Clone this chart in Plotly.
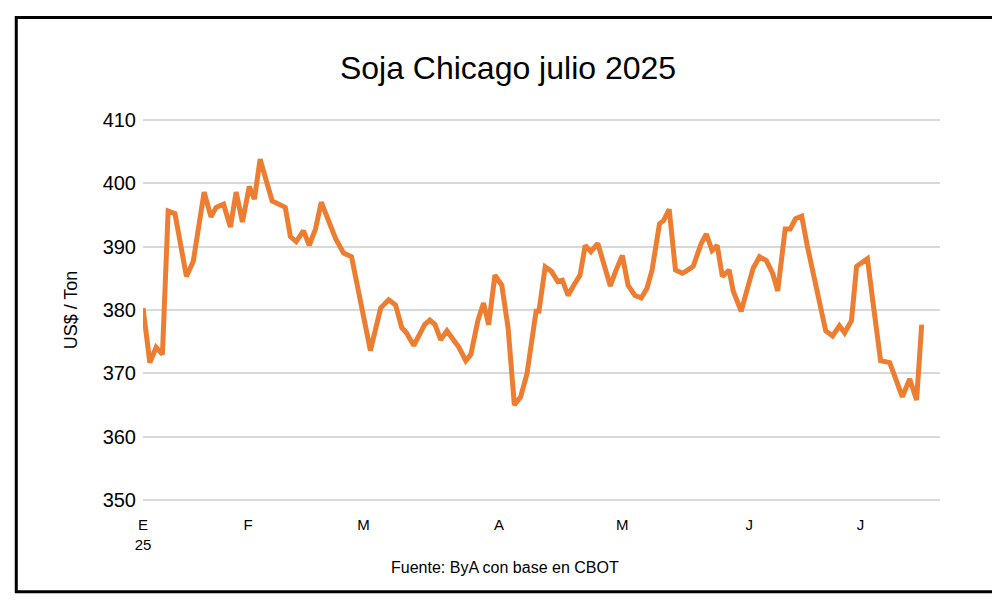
import plotly.graph_objects as go

x_pos = [0,1.2,2.3,3.4,4.4,5.6,7.6,8.8,10.7,11.9,12.8,14.1,15.3,16.3,17.4,18.6,19.5,20.5,22.6,24.9,25.8,26.8,28.1,29.1,30.2,31.2,33.7,35.1,36.5,38.2,39.8,41.6,43,44.2,45.3,46.1,47.4,49.3,50.2,51.1,52.1,53.2,54.4,55.3,56.5,57.4,58.6,59.6,60.5,61.6,62.8,63.9,65,66.1,67.2,68.1,68.8,69.3,70.4,71.5,72.6,73.4,74.4,75.4,76.5,77.4,78.4,79.6,80.7,81.8,82.8,83.9,84.9,86.1,87.2,88.2,89.1,90.4,91.1,92.1,93.2,94.4,95,96.3,97.7,98.6,99.6,100.5,101.4,102.6,103.3,104.7,105.8,106.8,107.9,109.1,110.2,111.1,112.4,113.3,114.2,115.3,116.3,117.5,119.5,120.7,121.9,122.8,124,124.9,126.1,126.8,127.9,129.1,130.7,131.9,132.9,134.2,135.4,136.3,137.4,139.5]
price = [380.3,371.7,374.1,373,395.6,395.2,385.3,387.7,398.6,394.7,396.2,396.7,393.1,398.6,393.9,399.5,397.5,403.8,397.2,396.2,391.6,390.8,392.5,390.2,392.8,397,391.3,389,388.4,380.3,373.6,380.3,381.6,380.8,377.2,376.4,374.4,377.7,378.4,377.7,375.3,376.7,375.2,374.1,372,373,378.3,381.1,377.7,385.5,383.9,377.2,365,366.3,369.9,375.6,379.8,379.8,386.8,386.1,384.5,384.7,382.3,383.9,385.5,390.2,389.2,390.5,387,383.8,386.3,388.6,383.9,382.3,381.9,383.4,386.3,393.6,394.1,395.9,386.3,385.8,386.1,386.9,390.5,392,389.4,390.2,385.3,386.3,383,379.8,383.4,386.6,388.4,387.8,385.8,383,392.8,392.8,394.4,394.8,390,385.3,376.7,375.9,377.5,376.4,378.3,386.9,387.8,388.1,380.3,372,371.7,368.6,366.3,369.1,365.8,377.7]
n = min(len(x_pos), len(price))
x_pos, price = x_pos[:n], price[:n]

tick_pos = [0, 18.4, 38.6, 62.3, 83.9, 106.1, 125.6]
tick_text = ["E<br>25", "F", "M", "A", "M", "J", "J"]
y_ticks = [350, 360, 370, 380, 390, 400, 410]

fig = go.Figure(go.Scatter(x=x_pos, y=price, mode="lines", cliponaxis=False,
                           line=dict(color="#ED7D31", width=5), hoverinfo="skip"))
fig.update_layout(
    width=1000, height=602, plot_bgcolor="white", paper_bgcolor="white",
    margin=dict(l=135, r=68, t=110, b=108, autoexpand=False), showlegend=False,
    font=dict(family="Liberation Sans, Arial", color="black"),
    title=dict(text="Soja Chicago julio 2025", x=0.5, xanchor="center", y=0.9, yanchor="middle",
               font=dict(size=32, color="black", family="Liberation Sans, Arial")),
    xaxis=dict(range=[0, 139.5], tickvals=tick_pos, ticktext=tick_text, showgrid=False,
               automargin=False, zeroline=False, showline=False, tickfont=dict(size=15),
               ticks="", ticklabelstandoff=12),
    yaxis=dict(range=[349.7, 410.3], tickvals=y_ticks, gridcolor="#D9D9D9", gridwidth=2,
               automargin=False, zeroline=False, showline=False, tickfont=dict(size=20), ticks="",
               ticklabelstandoff=6,
               title=dict(text="US$ / Ton", font=dict(size=18), standoff=20)),
    annotations=[dict(text="Fuente: ByA con base en CBOT", xref="paper", yref="paper",
                      x=0.454, y=-0.17, xanchor="center", yanchor="middle",
                      showarrow=False, font=dict(size=16))],
    shapes=[dict(type="rect", xref="paper", yref="paper", x0=-0.159, x1=1.076, y0=-0.234, y1=1.262,
                 line=dict(color="black", width=3))],
)
fig.write_html("out.html")
